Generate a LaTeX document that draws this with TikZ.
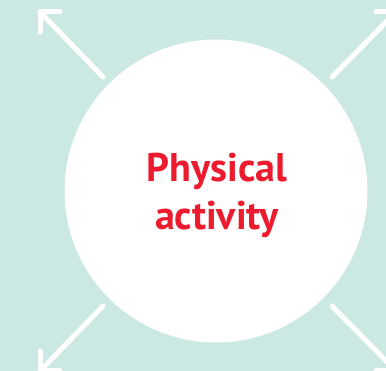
\documentclass[tikz,border=0pt]{standalone}
\usepackage{fontspec}
\setmainfont{PT Sans}
\definecolor{mint}{HTML}{CBE8E2}
\definecolor{alertred}{HTML}{EC1C2E}
\tikzset{
  disc/.style={circle,fill=white,minimum size=303pt,inner sep=0pt},
  disclabel/.style={align=center,text=alertred,font=\bfseries\fontsize{40}{48}\selectfont},
  whitearrow/.style={white,line width=5pt,line cap=round,line join=round}
}
\begin{document}
\begin{tikzpicture}[x=1pt,y=-1pt]
  \fill[mint] (0,0) rectangle (386,371);
  \useasboundingbox (0,0) rectangle (386,371);
  \node[disc] (disc) at (216,191) {};
  \node[disclabel] (label) at (217,195) {Physical\\activity};
  % corner arrows
  \coordinate (tlTail) at (103,77);  \coordinate (tlTip) at (40,12);
  \coordinate (trTail) at (332,77);  \coordinate (trTip) at (396,12);
  \coordinate (blTail) at (103,306); \coordinate (blTip) at (40,371);
  \coordinate (brTail) at (332,306); \coordinate (brTip) at (396,371);
  \draw[whitearrow] (tlTail) -- (tlTip);
  \draw[whitearrow] (tlTip) ++(20,0) -- (tlTip) -- ++(0,20);
  \draw[whitearrow] (trTail) -- (trTip);
  \draw[whitearrow] (trTip) ++(-20,0) -- (trTip) -- ++(0,20);
  \draw[whitearrow] (blTail) -- (blTip);
  \draw[whitearrow] (blTip) ++(20,0) -- (blTip) -- ++(0,-20);
  \draw[whitearrow] (brTail) -- (brTip);
  \draw[whitearrow] (brTip) ++(-20,0) -- (brTip) -- ++(0,-20);
\end{tikzpicture}
\end{document}
